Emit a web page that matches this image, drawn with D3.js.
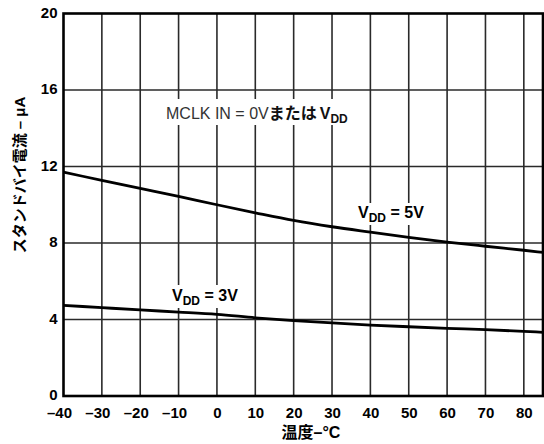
<!DOCTYPE html>
<html>
<head>
<meta charset="utf-8">
<script src="https://cdn.jsdelivr.net/npm/d3@7"></script>
<style>
  html, body { margin: 0; padding: 0; background: #fff; }
  svg { display: block; }
  text { font-family: "Liberation Sans", Arial, "Noto Sans CJK JP", sans-serif; }
  .jp { font-family: "Liberation Sans", "Noto Sans CJK JP", sans-serif; }
</style>
</head>
<body>
<script>
// Standby current vs. temperature
const temps = [-40, -30, -20, -10, 0, 10, 20, 30, 40, 50, 60, 70, 80, 85];
const current5V = [11.7, 11.28, 10.86, 10.44, 10.0, 9.58, 9.18, 8.85, 8.57, 8.3, 8.05, 7.83, 7.62, 7.51];
const current3V = [4.74, 4.62, 4.5, 4.39, 4.27, 4.09, 3.94, 3.82, 3.71, 3.62, 3.54, 3.47, 3.38, 3.33];
const xTicks = [-40, -30, -20, -10, 0, 10, 20, 30, 40, 50, 60, 70, 80];
const yTicks = [0, 4, 8, 12, 16, 20];

const W = 544, H = 444;
const plotL = 63.5, plotR = 543, plotT = 13.5, plotB = 396;

const svg = d3.select("body").append("svg").attr("width", W).attr("height", H);

const x = d3.scaleLinear().domain([-40, 85]).range([plotL, plotR]);
const y = d3.scaleLinear().domain([0, 20]).range([plotB, plotT]);

// grid
const grid = svg.append("g").attr("stroke", "#2a2a2a").attr("stroke-width", 1.6);
grid.selectAll("line.v").data(xTicks.filter(d => d > -40)).join("line")
  .attr("class", "v")
  .attr("x1", d => x(d)).attr("x2", d => x(d)).attr("y1", plotT).attr("y2", plotB);
grid.selectAll("line.h").data(yTicks.filter(d => d > 0 && d < 20)).join("line")
  .attr("class", "h")
  .attr("x1", plotL).attr("x2", plotR).attr("y1", d => y(d)).attr("y2", d => y(d));

// label backgrounds over the grid
const bg = svg.append("g").attr("fill", "#fff");
bg.append("rect").attr("x", 160).attr("y", 99).attr("width", 190).attr("height", 26);
bg.append("rect").attr("x", 352).attr("y", 203).attr("width", 80).attr("height", 22);
bg.append("rect").attr("x", 166).attr("y", 285).attr("width", 80).attr("height", 23);

// curves
const line = d3.line().x(d => x(d[0])).y(d => y(d[1])).curve(d3.curveMonotoneX);
[current5V, current3V].forEach(vals => {
  svg.append("path")
    .datum(temps.map((t, i) => [t, vals[i]]))
    .attr("fill", "none").attr("stroke", "#000").attr("stroke-width", 2.8)
    .attr("d", line);
});

// frame
svg.append("rect").attr("x", plotL).attr("y", plotT)
  .attr("width", plotR - plotL).attr("height", plotB - plotT)
  .attr("fill", "none").attr("stroke", "#000").attr("stroke-width", 2.6);

// axes (labels only; frame and grid drawn above)
const xAxis = d3.axisBottom(x).tickValues(xTicks).tickSize(0).tickPadding(0)
  .tickFormat(d => d < 0 ? "\u2013" + Math.abs(d) : String(d));
const gx = svg.append("g").attr("transform", `translate(0,${plotB})`).call(xAxis);
gx.select(".domain").remove();
gx.selectAll("text")
  .attr("y", 21.5).attr("dy", 0)
  .attr("dx", d => d < 0 ? -4.5 : 0)
  .attr("font-size", 15).attr("font-weight", "bold").attr("fill", "#000")
  .attr("font-family", "Liberation Sans, Arial, sans-serif");

const yAxis = d3.axisLeft(y).tickValues(yTicks).tickSize(0).tickPadding(0);
const gy = svg.append("g").attr("transform", `translate(${plotL},0)`).call(yAxis);
gy.select(".domain").remove();
gy.selectAll("text")
  .attr("x", -6).attr("y", -1.5).attr("dy", "0.36em")
  .attr("font-size", 15).attr("font-weight", "bold").attr("fill", "#000")
  .attr("font-family", "Liberation Sans, Arial, sans-serif");

// axis titles
svg.append("text").attr("class", "jp")
  .attr("x", 311).attr("y", 438).attr("text-anchor", "middle")
  .attr("font-size", 16).attr("font-weight", "bold")
  .text("温度–°C");

svg.append("text").attr("class", "jp")
  .attr("transform", "translate(25,175) rotate(-90)")
  .attr("text-anchor", "middle")
  .attr("font-size", 15).attr("font-weight", "bold")
  .text("スタンドバイ電流 – μA");

// annotations
const mclk = svg.append("text").attr("class", "jp").attr("x", 166).attr("y", 118.5)
  .attr("font-size", 16).attr("fill", "#333");
mclk.append("tspan").text("MCLK IN = 0V");
mclk.append("tspan").attr("font-weight", "bold").attr("fill", "#111").text("または");
mclk.append("tspan").attr("font-weight", "bold").attr("fill", "#111").attr("dx", 3).text("V");
mclk.append("tspan").attr("font-weight", "bold").attr("fill", "#111")
  .attr("font-size", 12).attr("dy", 4.5).text("DD");

function vddLabel(xp, yp, volts) {
  const t = svg.append("text").attr("x", xp).attr("y", yp)
    .attr("font-size", 16).attr("font-weight", "bold");
  t.append("tspan").text("V");
  t.append("tspan").attr("font-size", 12).attr("dy", 4).text("DD");
  t.append("tspan").attr("dy", -4).text(` = ${volts}V`);
}
vddLabel(358, 218, 5);
vddLabel(172, 300.5, 3);
</script>
</body>
</html>
